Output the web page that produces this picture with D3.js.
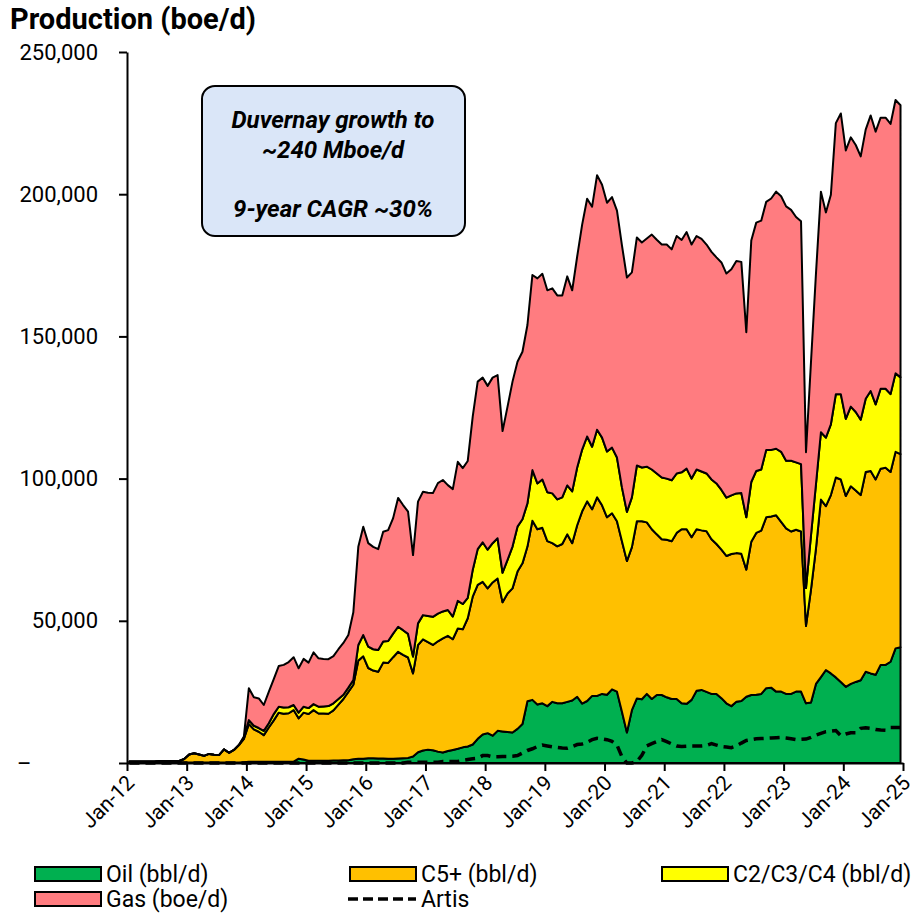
<!DOCTYPE html>
<html>
<head>
<meta charset="utf-8">
<script src="https://cdn.jsdelivr.net/npm/d3@7"></script>
<style>
  body { margin: 0; background: #fff; }
  text { font-family: Roboto, sans-serif; }
</style>
</head>
<body>
<svg id="canvas" width="918" height="914"></svg>
<script>
// monthly values Jan-12 .. Dec-24 (boe/d), one row per year
let oil = [
  200,200,200,200,200,200,200,200,200,200,200,200,
  200,200,200,200,200,200,200,200,200,200,200,300,
  400,400,400,400,400,400,400,400,400,500,1500,1200,
  800,800,800,800,800,900,900,1000,1000,1300,1500,1500,
  1700,1700,1600,1600,1500,1500,1600,1700,1800,2300,3800,4400,
  4700,4500,4000,3700,4200,4600,5000,5500,5800,6500,8500,10000,
  10500,9600,11300,11100,10900,10700,12000,13700,21700,22200,20600,21000,
  20000,21500,21000,21000,21500,22000,23300,20900,21800,23600,23600,24300,
  24000,25900,25100,18000,10700,18600,22700,22400,24300,22500,23900,23900,
  23100,22500,22500,21000,20800,22200,25400,25700,25000,24300,24300,22800,
  21000,20000,21500,21800,23300,23900,24000,24300,26300,26500,25100,25100,
  24300,24300,25100,25100,21000,21300,27800,30200,32700,31500,30100,28500,
  26800,27800,28500,29100,32100,31500,31000,34500,34500,35600,40300,40700
]
let c5 = [
  300,300,300,300,300,300,500,500,500,500,500,1200,
  2800,3200,2800,2300,3000,2700,2600,4600,3400,4400,6100,8200,
  13300,11400,10600,9400,12100,14600,17300,16900,17100,18100,14200,16500,
  16400,17800,16600,16600,16500,17600,19600,21500,24000,26200,34500,36000,
  31700,30800,30500,33700,33700,35700,37500,36300,35300,29200,37700,39100,
  37800,37000,38800,40100,40500,38900,42300,41500,45100,52000,54100,53700,
  50900,53900,53600,45400,48700,50700,55300,56500,54400,63000,61600,61700,
  58000,55800,55200,56000,58900,55300,60300,67600,70200,65600,69800,66300,
  62400,61900,59900,60000,60300,57300,62300,62600,60300,59700,56500,54800,
  55400,55500,58400,61200,61400,57200,56800,56100,56500,54400,52700,52200,
  51800,53500,52300,51800,44700,53900,56900,57400,60100,60200,62000,59700,
  58200,57100,56900,56300,27200,39700,47600,62400,57600,62700,70300,71200,
  67100,69500,67300,65100,70200,71200,68700,69000,69300,66700,69100,67900
]
let c234 = [
  0,0,0,0,0,0,0,0,0,0,0,0,
  0,0,0,0,0,0,0,0,0,0,0,500,
  1400,1300,1300,1500,1500,2200,2100,2200,2100,1800,2000,2100,
  2100,2100,2400,2500,2700,2500,2000,1500,1500,1700,5500,7500,
  7500,7500,7600,7400,7700,8300,8800,8700,8300,5900,7600,8500,
  9200,9900,9700,9500,9100,8000,9700,8900,7200,9400,12600,13900,
  13600,13800,14100,10400,11800,14700,15800,15500,15200,17800,16100,17000,
  17200,17500,16500,16400,17200,18200,20300,21700,22800,22000,23800,23800,
  23100,23100,22400,18900,17300,17500,19600,18900,19600,21000,21400,21700,
  21500,21400,20900,20000,21300,20600,21000,20700,20300,21000,21300,21000,
  20500,20600,21000,21300,18400,21000,21800,21500,23700,23400,23400,24600,
  23800,24900,23700,23700,13300,19000,22600,23700,24100,24900,29300,30000,
  27100,28000,27600,26500,25800,28100,26400,28100,27800,27400,27600,27000
]
let gas = [
  0,0,0,0,0,0,0,0,0,0,0,0,
  0,0,0,0,0,0,0,0,0,0,0,300,
  11200,10000,10400,9100,11000,12300,14300,15000,15900,16800,15600,16800,
  16000,18200,17000,16700,16500,16600,17500,18200,18500,23800,34500,38100,
  36400,36000,35500,38600,39000,40600,45300,44000,43000,35700,42800,43400,
  43300,43500,45900,46200,43900,44800,48900,47800,48100,53900,58900,57900,
  57600,58200,57400,49800,53900,58000,58000,58900,62700,68600,72100,72300,
  71000,72100,71700,71000,73500,70700,74200,79100,83600,84400,89500,88900,
  87500,88100,86800,85100,82400,79100,80200,79100,80200,82600,82200,81900,
  82300,81200,83500,81700,83200,82300,82100,81800,80500,80000,79500,80000,
  78800,79500,81700,81300,65100,84900,87300,87500,87200,88400,90400,89900,
  89400,88200,86300,85400,47800,60900,74000,84600,79200,80700,95300,98700,
  94400,94700,93900,92600,94600,96900,95900,95300,95300,95000,96100,95700
]
let artis = [
  0,0,0,0,0,0,0,0,0,0,0,0,
  0,0,0,0,0,0,0,0,0,0,0,0,
  0,0,0,0,0,0,0,0,0,0,0,0,
  0,0,0,0,0,0,0,0,0,0,0,0,
  0,0,0,0,0,0,0,0,300,300,300,300,
  300,300,300,500,500,500,500,900,1200,1500,1700,2600,
  2600,2200,2200,2300,2300,2400,2600,3500,4400,5000,5800,6300,
  6000,5700,5500,5300,5200,5800,6500,6700,7300,8200,8700,8500,
  8200,7600,6300,2200,0,0,500,2700,6000,6800,7500,8200,
  7500,6700,6000,5800,5900,6000,6000,6000,6200,6800,6300,5800,
  5600,5400,6000,7000,7900,8200,8500,8600,8700,8800,8900,9000,
  8800,8500,8200,8300,8400,9000,9800,10400,11000,11200,11400,9600,
  10200,10600,10600,12200,12400,12200,11800,11600,11500,12500,12500,12500
]

let tickLabels = ['Jan-12','Jan-13','Jan-14','Jan-15','Jan-16','Jan-17','Jan-18',
                  'Jan-19','Jan-20','Jan-21','Jan-22','Jan-23','Jan-24','Jan-25']
let yTicks = [0, 50000, 100000, 150000, 200000, 250000]

let seriesKeys = ['oil', 'c5', 'c234', 'gas']
let seriesNames = ['Oil (bbl/d)', 'C5+ (bbl/d)', 'C2/C3/C4 (bbl/d)', 'Gas (boe/d)']
let seriesColors = ['#00B050', '#FFC000', '#FFFF00', '#FF7C80']

let canvas = d3.select('#canvas')

let rows = oil.map((v, i) => {
    return {month: i, oil: v, c5: c5[i], c234: c234[i], gas: gas[i], artis: artis[i]}
})

let xScale = d3.scaleLinear().domain([0, 156]).range([127, 903])
let yScale = d3.scaleLinear().domain([0, 250000]).range([763, 52])

// title
canvas.append('text')
    .attr('x', 10).attr('y', 29)
    .style('font-size', '29px').style('font-weight', 'bold')
    .text('Production (boe/d)')

// stacked areas (points sit mid-month, between the January ticks)
let stacked = d3.stack().keys(seriesKeys)(rows)

let area = d3.area()
    .x((d) => xScale(d.data.month + 0.5))
    .y0((d) => yScale(d[0]))
    .y1((d) => yScale(d[1]))

canvas.append('g').selectAll('path')
    .data(stacked)
    .enter()
    .append('path')
    .attr('d', area)
    .attr('fill', (s, i) => seriesColors[i])
    .attr('stroke', '#000')
    .attr('stroke-width', 2)
    .attr('stroke-linejoin', 'round')

// Artis dashed line
let artisLine = d3.line()
    .x((d) => xScale(d.month + 0.5))
    .y((d) => yScale(d.artis))

canvas.append('path')
    .datum(rows)
    .attr('d', artisLine)
    .attr('fill', 'none')
    .attr('stroke', '#000')
    .attr('stroke-width', 3.5)
    .attr('stroke-dasharray', '10,6')

// axes
let yAxis = d3.axisLeft(yScale)
    .tickValues(yTicks)
    .tickFormat((d) => d === 0 ? '–' : d3.format(',')(d))
    .tickSize(8)
    .tickSizeOuter(0)
    .tickPadding(21)

let yG = canvas.append('g')
    .attr('transform', 'translate(127,0)')
    .call(yAxis)
yG.selectAll('text').style('font-size', '22px').attr('fill', '#000')
yG.selectAll('.tick').filter((d) => d === 0).select('text')
    .attr('text-anchor', 'start').attr('x', -110)

let xAxis = d3.axisBottom(xScale)
    .tickValues(d3.range(0, 157, 12))
    .tickFormat((d, i) => tickLabels[i])
    .tickSize(8)
    .tickSizeOuter(0)

let xG = canvas.append('g')
    .attr('transform', 'translate(0,763)')
    .call(xAxis)
xG.selectAll('text')
    .style('font-size', '21px')
    .attr('fill', '#000')
    .attr('text-anchor', 'end')
    .attr('x', 0).attr('y', 0).attr('dy', '0.35em')
    .attr('transform', 'translate(3,16) rotate(-45)')

canvas.selectAll('.domain, .tick line')
    .attr('stroke', '#000')
    .attr('stroke-width', 2)

// annotation box
canvas.append('rect')
    .attr('x', 202).attr('y', 86)
    .attr('width', 263).attr('height', 150)
    .attr('rx', 13)
    .attr('fill', '#DAE6F8')
    .attr('stroke', '#000')
    .attr('stroke-width', 2)

let boxLines = [['Duvernay growth to', 128], ['~240 Mboe/d', 158], ['9-year CAGR ~30%', 217]]
canvas.append('g').selectAll('text')
    .data(boxLines)
    .enter()
    .append('text')
    .attr('x', 333).attr('y', (d) => d[1])
    .attr('text-anchor', 'middle')
    .style('font-size', '24px')
    .style('font-weight', 'bold')
    .style('font-style', 'italic')
    .text((d) => d[0])

// legend
let legendItems = [
    {name: seriesNames[0], color: seriesColors[0], x: 35, y: 874},
    {name: seriesNames[1], color: seriesColors[1], x: 350, y: 874},
    {name: seriesNames[2], color: seriesColors[2], x: 662, y: 874},
    {name: seriesNames[3], color: seriesColors[3], x: 35, y: 899}
]

let legend = canvas.append('g')
let item = legend.selectAll('g')
    .data(legendItems)
    .enter()
    .append('g')
item.append('rect')
    .attr('x', (d) => d.x).attr('y', (d) => d.y - 7)
    .attr('width', 66).attr('height', 14)
    .attr('fill', (d) => d.color)
    .attr('stroke', '#000')
    .attr('stroke-width', 2)
item.append('text')
    .attr('x', (d) => d.x + 71).attr('y', (d) => d.y)
    .attr('dy', '0.35em')
    .style('font-size', '23px')
    .text((d) => d.name)

legend.append('line')
    .attr('x1', 348).attr('x2', 416)
    .attr('y1', 899).attr('y2', 899)
    .attr('stroke', '#000')
    .attr('stroke-width', 3.5)
    .attr('stroke-dasharray', '10,5')
legend.append('text')
    .attr('x', 421).attr('y', 899)
    .attr('dy', '0.35em')
    .style('font-size', '23px')
    .text('Artis')
</script>
</body>
</html>
